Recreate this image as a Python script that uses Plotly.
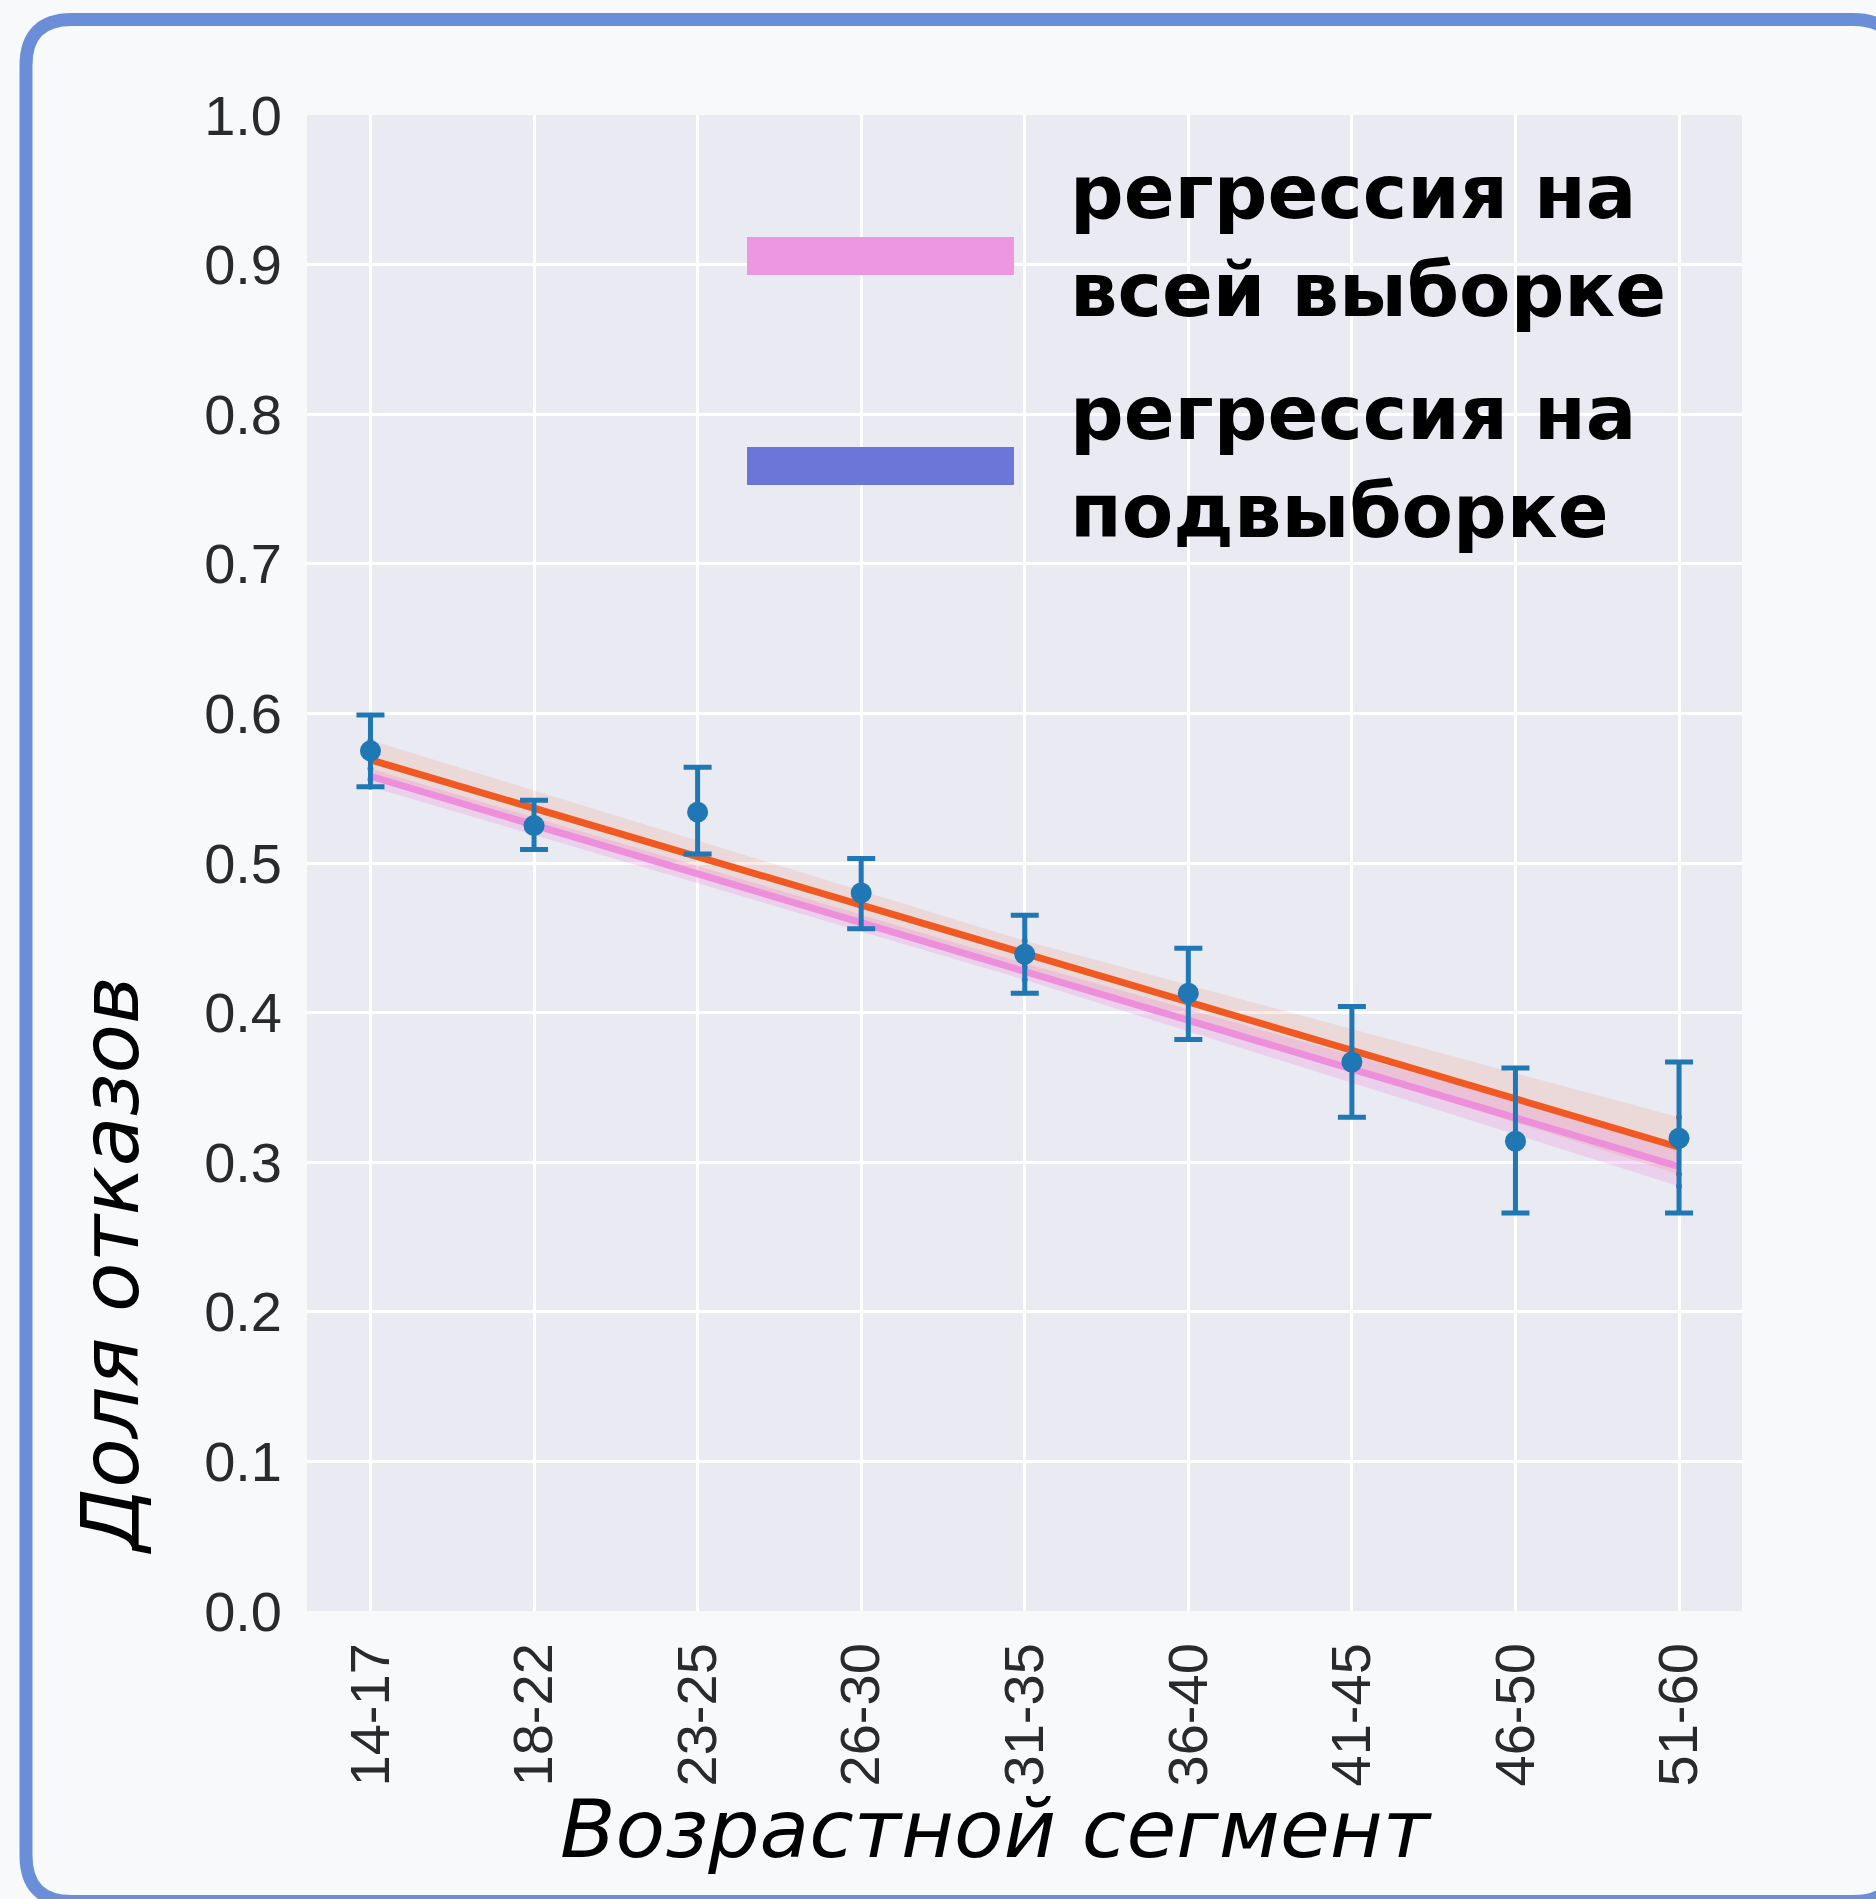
import plotly.graph_objects as go

# ---- data -------------------------------------------------------------
age_groups = ["14-17", "18-22", "23-25", "26-30", "31-35",
              "36-40", "41-45", "46-50", "51-60"]
refusal_rate = [0.575, 0.525, 0.534, 0.480, 0.439, 0.413, 0.367, 0.314, 0.316]
ci_high = [0.599, 0.542, 0.564, 0.503, 0.465, 0.443, 0.404, 0.363, 0.367]
ci_low = [0.551, 0.509, 0.506, 0.456, 0.413, 0.382, 0.330, 0.266, 0.266]

# regression fits: values at first / middle / last age group
fit_pos = [0, 4, 8]
fit_full = [0.558, 0.4275, 0.297]          # whole sample
fit_full_hi = [0.563, 0.433, 0.310]
fit_full_lo = [0.551, 0.422, 0.284]
fit_sub = [0.569, 0.4395, 0.310]           # subsample
fit_sub_hi = [0.582, 0.448, 0.330]
fit_sub_lo = [0.556, 0.430, 0.292]

y_ticks = [0.0, 0.1, 0.2, 0.3, 0.4, 0.5, 0.6, 0.7, 0.8, 0.9, 1.0]

legend_labels = ["регрессия на<br>всей выборке", "регрессия на<br>подвыборке"]
legend_colors = ["#EC97E0", "#6B77D8"]

x_title = "Возрастной сегмент"
y_title = "Доля отказов"

# ---- geometry ---------------------------------------------------------
W, H = 1876, 1899
ML, MR, MT, MB = 307, 134, 115, 288
PW, PH = W - ML - MR, H - MT - MB


def px_x(px):
    return (px - ML) / PW


def px_y(py):
    return (H - MB - py) / PH


xpos = list(range(len(age_groups)))

fig = go.Figure()

# confidence bands
fig.add_trace(go.Scatter(
    x=fit_pos + fit_pos[::-1], y=fit_full_hi + fit_full_lo[::-1],
    fill="toself", fillcolor="rgba(238,140,222,0.28)",
    line=dict(width=0), hoverinfo="skip", showlegend=False))
fig.add_trace(go.Scatter(
    x=fit_pos + fit_pos[::-1], y=fit_sub_hi + fit_sub_lo[::-1],
    fill="toself", fillcolor="rgba(240,110,80,0.14)",
    line=dict(width=0), hoverinfo="skip", showlegend=False))

# regression lines
fig.add_trace(go.Scatter(
    x=fit_pos, y=fit_full, mode="lines",
    line=dict(color="#EE8FDC", width=7), showlegend=False))
fig.add_trace(go.Scatter(
    x=fit_pos, y=fit_sub, mode="lines",
    line=dict(color="#F05A22", width=7), showlegend=False))

# observed rates with intervals
fig.add_trace(go.Scatter(
    x=xpos, y=refusal_rate, mode="markers",
    marker=dict(color="#1F77B4", size=21),
    error_y=dict(type="data", symmetric=False,
                 array=[h - v for h, v in zip(ci_high, refusal_rate)],
                 arrayminus=[v - l for v, l in zip(refusal_rate, ci_low)],
                 color="#1F77B4", thickness=5, width=14),
    showlegend=False))

tick_font = dict(family="Liberation Sans, Arial, sans-serif", size=56, color="#2a2a2a")

fig.update_xaxes(
    range=[-0.388, 8.385], tickmode="array", tickvals=xpos, ticktext=age_groups,
    tickangle=-90, tickfont=tick_font, showgrid=True, gridcolor="#FFFFFF",
    gridwidth=3, zeroline=False, showline=False, ticks="",
    ticklabelstandoff=20)
fig.update_yaxes(
    range=[0, 1], tickmode="array", tickvals=y_ticks,
    ticktext=[f"{v:.1f}" for v in y_ticks], tickfont=tick_font,
    showgrid=True, gridcolor="#FFFFFF", gridwidth=3, zeroline=False,
    showline=False, ticks="", ticklabelstandoff=24)

# rounded frame around the card
x0, y0, x1, y1, r = 26, 19.5, 1899, 1901.5, 46
def P(px, py):
    return f"{px_x(px):.5f},{px_y(py):.5f}"
frame = (f"M {P(x0 + r, y0)} L {P(x1 - r, y0)} Q {P(x1, y0)} {P(x1, y0 + r)} "
         f"L {P(x1, y1 - r)} Q {P(x1, y1)} {P(x1 - r, y1)} "
         f"L {P(x0 + r, y1)} Q {P(x0, y1)} {P(x0, y1 - r)} "
         f"L {P(x0, y0 + r)} Q {P(x0, y0)} {P(x0 + r, y0)} Z")
shapes = [dict(type="path", path=frame, xref="paper", yref="paper",
               line=dict(color="#6A8ED8", width=13), fillcolor="rgba(0,0,0,0)",
               layer="above")]

# legend swatches
for (ytop, ybot), col in zip([(237, 275), (447, 485)], legend_colors):
    shapes.append(dict(type="rect", xref="paper", yref="paper",
                       x0=px_x(747), x1=px_x(1014), y0=px_y(ybot), y1=px_y(ytop),
                       fillcolor=col, line=dict(width=0), layer="above"))

annotations = []
for label, yc in zip(legend_labels, [241, 462]):
    annotations.append(dict(
        text=label, xref="paper", yref="paper", x=px_x(1068), y=px_y(yc),
        xanchor="left", yanchor="middle", align="left", showarrow=False,
        font=dict(family="DejaVu Sans", size=75, color="#000000", weight="bold")))

title_font = dict(family="DejaVu Sans", size=81, color="#000000", style="italic")
annotations.append(dict(
    text=x_title, xref="paper", yref="paper", x=px_x(996), y=px_y(1829),
    xanchor="center", yanchor="middle", showarrow=False, font=title_font))
annotations.append(dict(
    text=y_title, xref="paper", yref="paper", x=px_x(110), y=px_y(1265),
    xanchor="center", yanchor="middle", textangle=-90, showarrow=False,
    font=title_font))

fig.update_layout(
    width=W, height=H,
    margin=dict(l=ML, r=MR, t=MT, b=MB),
    paper_bgcolor="#F8F9FA", plot_bgcolor="#EAEAF2",
    shapes=shapes, annotations=annotations,
    showlegend=False)

fig.write_html("out.html")
